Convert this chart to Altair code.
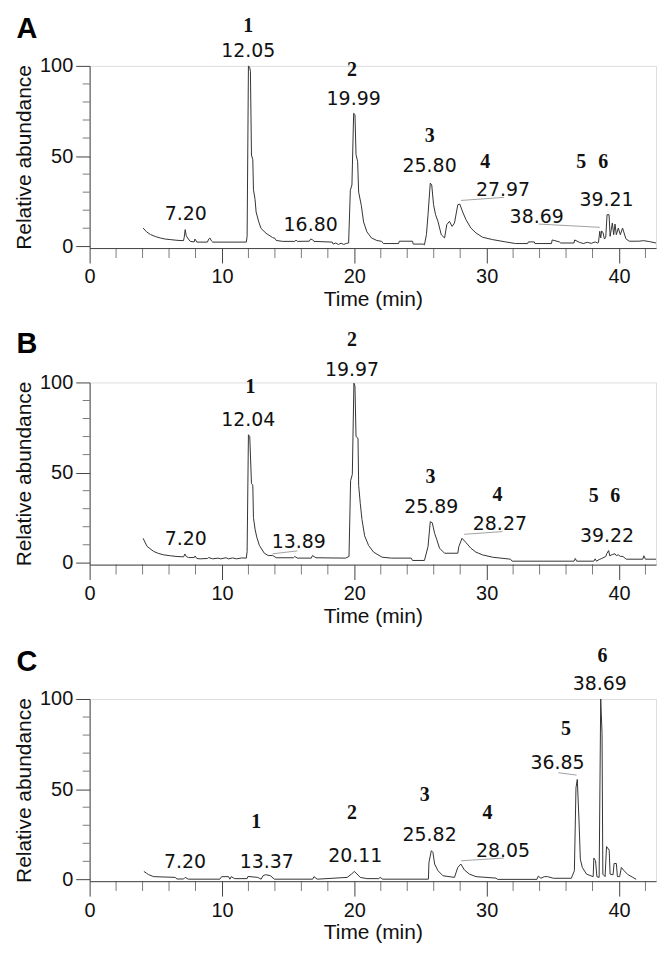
import altair as alt
import pandas as pd

# ---------------- traces (time in min, relative abundance) ----------------
a_time = [4.04, 4.3, 4.6, 5.0, 5.34, 5.7, 6.09, 6.6, 7.09, 7.15, 7.22, 7.3, 7.4, 7.6, 7.9, 7.96, 8.1,
          8.9, 9.0, 9.09, 9.2, 9.3, 11.84, 11.9, 12.0, 12.1, 12.15, 12.23, 12.33, 12.38, 12.5, 12.58,
          12.78, 12.95, 13.33, 13.83, 14.0, 14.1, 14.6, 15.5, 15.6, 15.7, 16.6, 16.7, 16.85, 16.95,
          18.33, 18.4, 18.6, 18.8, 19.0, 19.2, 19.4, 19.57, 19.7, 19.82, 19.95, 20.05, 20.13, 20.25,
          20.33, 20.53, 20.7, 20.95, 21.3, 21.7, 22.07, 22.2, 23.35, 23.4, 24.4, 24.45, 25.2, 25.3,
          25.45, 25.57, 25.74, 25.85, 25.99, 26.14, 26.32, 26.57, 26.82, 26.99, 27.19, 27.39, 27.57,
          27.82, 27.97, 28.19, 28.44, 28.81, 29.19, 29.69, 30.44, 31.44, 32.19, 33.1, 33.15, 33.6,
          33.65, 34.9, 34.95, 35.5, 35.6, 36.6, 36.65, 37.0, 37.3, 37.6, 37.9, 38.2, 38.4, 38.45,
          38.55, 38.62, 38.69, 38.8, 38.9, 39.0, 39.1, 39.25, 39.33, 39.5, 39.6, 39.7, 39.8, 39.95,
          40.1, 40.27, 40.52, 40.77, 41.5, 41.85, 42.3, 42.8]
a_abund = [10.1, 8.0, 6.5, 5.3, 4.6, 4.0, 3.7, 3.3, 3.1, 5.0, 9.2, 6.0, 4.6, 2.7, 2.4, 4.0, 2.3,
           2.3, 4.0, 4.6, 3.0, 2.3, 2.3, 5.5, 100, 99, 97, 50.6, 48, 31.3, 26, 19,
           13.5, 9.9, 7.2, 4.8, 4.4, 3.2, 2.7, 2.7, 3.4, 2.7, 2.8, 4.0, 3.6, 2.7,
           2.3, 1.2, 1.8, 1.0, 1.7, 1.0, 1.6, 1.8, 31, 34, 73.7, 73, 50.8, 47,
           30, 22.6, 13.5, 8, 4.6, 3.2, 2.7, 1.5, 1.5, 2.8, 2.8, 1.2, 1.2, 0.8,
           6.4, 17.5, 35, 34, 23, 17.5, 13.8, 6.4, 4.6, 12, 13.8, 11, 12.9,
           23, 23.4, 19, 14.7, 10.1, 7.4, 5, 3.7, 2.4, 1.5, 1.5, 2.4, 2.4,
           1.5, 1.5, 3.5, 2.4, 1.8, 1.8, 3.5, 2.2, 1.5, 2.2, 1.6, 2.4, 1.8, 2.0,
           8.3, 4.6, 8.5, 7.4, 4.0, 5.0, 17.5, 17.5, 5.5, 12.9, 6.4, 12.3, 6.4, 10.1,
           6.4, 10.1, 4.2, 2.8, 2.8, 3.1, 2.6, 1.8]

b_time = [4.04, 4.34, 4.84, 5.2, 5.6, 6.1, 6.6, 7.1, 7.2, 7.3, 7.47, 7.9, 7.97, 8.1, 8.35, 8.9, 9.0,
          9.3, 9.7, 9.9, 10.3, 10.5, 10.8, 11.1, 11.5, 11.84, 11.9, 12.0, 12.1, 12.23, 12.33, 12.38,
          12.5, 12.63, 12.83, 13.2, 13.5, 13.83, 14.1, 15.4, 15.5, 15.7, 16.75, 16.84, 17.1, 19.34,
          19.6, 19.72, 19.85, 19.97, 20.05, 20.13, 20.28, 20.33, 20.45, 20.58, 20.78, 21.08, 21.46,
          22.1, 22.8, 24.3, 24.4, 25.3, 25.57, 25.74, 25.89, 26.07, 26.24, 26.44, 26.82, 27.82, 27.9,
          28.14, 28.44, 28.81, 29.19, 29.69, 30.44, 31.8, 31.93, 36.6, 36.7, 36.8, 38.1, 38.2, 38.3,
          38.5, 38.7, 39.0, 39.07, 39.22, 39.3, 39.5, 39.7, 39.8, 39.95, 40.1, 40.3, 40.55, 41.8,
          41.88, 42.0, 42.8]
b_abund = [13.6, 9.1, 6.3, 5.2, 4.4, 3.9, 3.5, 3.3, 4.9, 3.5, 2.9, 2.9, 3.8, 2.4, 2.2, 2.4, 2.9,
           2.2, 2.6, 2.2, 2.8, 2.2, 2.7, 2.2, 2.7, 2.6, 6.3, 71, 70, 44, 43, 25,
           18.7, 14.2, 9.6, 5.3, 4.0, 4.1, 2.8, 2.8, 3.5, 2.6, 2.6, 4.0, 2.8, 2.6,
           3.5, 45.5, 49, 99.6, 98, 70, 69, 43, 33, 24, 15, 9.6, 5.9,
           3.1, 2.6, 2.6, 1.3, 1.3, 9, 22.8, 22.2, 16.3, 12.7, 8.1, 5.3, 5.3, 9,
           13.6, 11.2, 8.1, 5.9, 4.4, 3.1, 2.0, 0.9, 0.9, 2.4, 0.9, 0.9, 2.2, 0.9,
           1.8, 2.4, 3.5, 5.0, 6.8, 3.9, 4.6, 5.0, 4.0, 4.4, 3.6, 3.5, 2.0, 2.0,
           3.9, 2.0, 2.0]

c_time = [4.1, 4.3, 4.46, 4.84, 6.46, 6.6, 7.1, 7.22, 7.47, 9.84, 9.97, 10.5, 10.6, 10.7, 10.96, 11.9,
          11.96, 12.7, 12.96, 13.1, 13.3, 13.66, 13.96, 16.85, 16.95, 17.2, 19.46, 19.8, 20.0, 20.2,
          20.45, 20.95, 21.85, 21.95, 22.15, 25.6, 25.64, 25.82, 25.94, 26.07, 26.32, 26.7, 27.57,
          27.82, 28.05, 28.32, 28.7, 29.2, 30.7, 30.82, 33.8, 33.9, 34.1, 34.35, 34.6, 35.05, 36.4,
          36.63, 36.75, 36.85, 36.98, 37.08, 37.23, 37.55, 38.05, 38.1, 38.23, 38.33, 38.5, 38.62,
          38.72, 38.78, 38.95, 39.06, 39.26, 39.33, 39.55, 39.63, 39.8, 39.88, 40.05, 40.18, 40.38,
          40.68, 41.05, 41.3]
c_abund = [4.4, 3.4, 2.6, 1.5, 1.1, 0.2, 0.2, 1.1, 0.1, 0.1, 1.5, 1.5, 0.1, 1.5, 0.4, 0.4,
           1.6, 1.1, 0.1, 2.0, 2.6, 2.0, 0.1, 0.1, 1.5, 0.1, 1.1, 3.0, 4.4, 3.0,
           1.1, 0.4, 0.4, 1.1, 0.1, 0.1, 9.4, 15.9, 15.0, 8.5, 4.8, 2.0, 1.1,
           6.6, 8.5, 5.2, 2.9, 1.5, 0.7, 0.0, 0.0, 1.8, 0.6, 1.5, 1.5, 0.6, 0.6,
           4.8, 50.8, 55.4, 32.4, 11.2, 6.6, 2.9, 1.5, 11.8, 10.3, 1.5, 1.1, 100,
           81, 2.9, 1.5, 18.2, 16.2, 2.9, 2.5, 8.8, 8.8, 1.5, 1.5, 6.6, 4.8,
           2.6, 1.1, 0.0]

# ---------------- annotations ----------------
a_num_text = ["1", "2", "3", "4", "5", "6"]
a_num_t = [11.99, 19.83, 25.69, 29.89, 37.15, 38.8]
a_num_v = [119, 94.5, 57.6, 43.6, 43.3, 43.3]
a_rt_text = ["12.05", "7.20", "16.80", "19.99", "25.80", "27.97", "39.21", "38.69"]
a_rt_t = [11.99, 7.27, 16.7, 19.95, 25.69, 31.24, 39.06, 33.78]
a_rt_v = [105, 14.4, 8.3, 78.3, 40.9, 28.0, 22.5, 12.9]
a_lead = [(28.07, 25.4, 31.3, 27.1), (33.93, 12.3, 38.55, 10.5)]

b_num_text = ["1", "2", "3", "4", "5", "6"]
b_num_t = [12.16, 19.83, 25.75, 30.81, 38.1, 39.72]
b_num_v = [94, 120, 44.3, 34.4, 33.8, 33.8]
b_rt_text = ["12.04", "7.20", "13.89", "19.97", "25.89", "28.27", "39.22"]
b_rt_t = [11.99, 7.27, 15.8, 19.83, 25.82, 31.0, 39.1]
b_rt_v = [76, 9.9, 8.1, 103.7, 27.7, 18.2, 11.8]
b_lead = [(13.83, 5.0, 15.7, 6.6), (28.3, 15.8, 31.2, 17.3)]

c_num_text = ["1", "2", "3", "4", "5", "6"]
c_num_t = [12.58, 19.83, 25.32, 30.06, 36.0, 38.75]
c_num_v = [28.4, 33.4, 43.5, 33.4, 80.3, 120.4]
c_rt_text = ["7.20", "13.37", "20.11", "25.82", "28.05", "36.85", "38.69"]
c_rt_t = [7.21, 13.39, 20.07, 25.69, 31.24, 35.36, 38.55]
c_rt_v = [6.3, 6.3, 9.4, 21, 12.5, 61, 105.2]
c_lead = [(28.07, 10.3, 31.3, 11.8), (35.43, 59.1, 36.8, 57.8)]

# axis tick values
x_major = [0, 10, 20, 30, 40]
x_minor = [2, 4, 6, 8, 12, 14, 16, 18, 22, 24, 26, 28, 32, 34, 36, 38, 42]
y_major = [0, 50, 100]
y_minor = [10, 20, 30, 40, 60, 70, 80, 90]

INK = "#111111"
LINE = "#333333"
AXC = "#444444"
SANS = "Liberation Sans"


def panel(letter, title_dy, t, v, nt, ntt, nv, rt, rtt, rtv, leads):
    trace = pd.DataFrame({"t": t, "v": v})
    nums = pd.DataFrame({"label": nt, "t": ntt, "v": nv})
    rts = pd.DataFrame({"label": rt, "t": rtt, "v": rtv})
    ld = pd.DataFrame(leads, columns=["t", "v", "t2", "v2"])
    xmin = pd.DataFrame({"t": x_minor})
    ymin = pd.DataFrame({"v": y_minor})

    xs = alt.Scale(domain=[0, 42.8], nice=False, zero=False)
    ys = alt.Scale(domain=[-1, 100], nice=False, zero=False)
    xaxis = alt.Axis(
        values=x_major, tickSize=15, labelFlush=False, grid=False,
        title="Time (min)", titleFont=SANS, titleFontSize=21, titleFontWeight="normal",
        titleColor=INK, titlePadding=2,
        labelFont=SANS, labelFontSize=20, labelColor=INK, labelPadding=4,
        domainColor=AXC, tickColor=AXC,
    )
    yaxis = alt.Axis(
        values=y_major, tickSize=14, grid=False,
        title="Relative abundance", titleFont=SANS, titleFontSize=21, titleFontWeight="normal",
        titleColor=INK, titlePadding=5,
        labelFont=SANS, labelFontSize=20, labelColor=INK, labelPadding=3,
        domainColor=AXC, tickColor=AXC,
    )

    line = alt.Chart(trace).mark_line(color=LINE, strokeWidth=1).encode(
        x=alt.X("t:Q", scale=xs, axis=xaxis),
        y=alt.Y("v:Q", scale=ys, axis=yaxis),
    )
    xticks = alt.Chart(xmin).mark_tick(
        orient="vertical", size=10, thickness=1, yOffset=5, color=AXC
    ).encode(x="t:Q", y=alt.datum(-1))
    yticks = alt.Chart(ymin).mark_tick(
        orient="horizontal", size=7, thickness=1, xOffset=-3.5, color=AXC
    ).encode(x=alt.datum(0), y="v:Q")
    leaders = alt.Chart(ld).mark_rule(color="#a0a0a0", strokeWidth=1).encode(
        x="t:Q", y="v:Q", x2="t2:Q", y2="v2:Q"
    )
    numtxt = alt.Chart(nums).mark_text(
        font="Liberation Serif", fontWeight="bold", fontSize=20, color=INK,
        align="center", baseline="alphabetic",
    ).encode(x="t:Q", y="v:Q", text="label:N")
    rttxt = alt.Chart(rts).mark_text(
        font="DejaVu Sans", fontSize=19, color=INK,
        align="center", baseline="alphabetic",
    ).encode(x="t:Q", y="v:Q", text="label:N")

    return alt.layer(line, xticks, yticks, leaders, numtxt, rttxt).properties(
        width=569, height=183,
        title=alt.TitleParams(letter, anchor="start", frame="bounds", font=SANS,
                              fontSize=29, fontWeight="bold", color="#000000",
                              dx=3, dy=title_dy),
    )


pA = panel("A", 32, a_time, a_abund, a_num_text, a_num_t, a_num_v, a_rt_text, a_rt_t, a_rt_v, a_lead)
pB = panel("B", 33, b_time, b_abund, b_num_text, b_num_t, b_num_v, b_rt_text, b_rt_t, b_rt_v, b_lead)
pC = panel("C", 35, c_time, c_abund, c_num_text, c_num_t, c_num_v, c_rt_text, c_rt_t, c_rt_v, c_lead)

chart = alt.VConcatChart(vconcat=[pA, pB, pC], spacing=135, bounds="flush").properties(
    padding={"left": 5, "top": 4, "right": 5, "bottom": 5}
).configure_view(stroke=None).configure(background="white")

chart.save("out.html", embed_options={"renderer": "svg", "actions": False})
